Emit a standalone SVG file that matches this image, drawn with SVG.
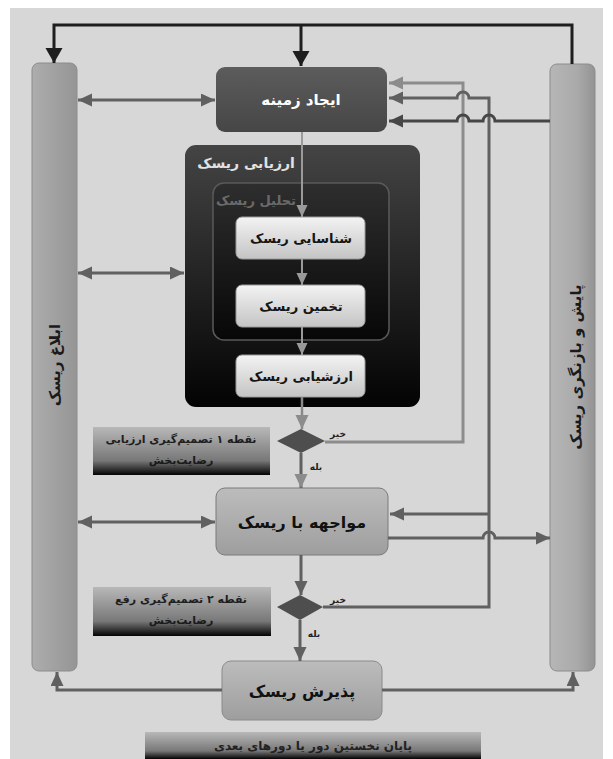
<svg xmlns="http://www.w3.org/2000/svg" width="613" height="759" viewBox="0 0 613 759">
<defs>
<style>
.fa{font-family:"DejaVu Sans","Noto Sans",sans-serif;direction:rtl;text-anchor:middle;font-weight:bold}
.ln{fill:none;stroke:#606060;stroke-width:3}
.blk{fill:none;stroke:#1e1e1e;stroke-width:3}
.lt{fill:none;stroke:#9a9a9a;stroke-width:2}
.node{fill:url(#gLight);stroke:#9a9a9a;stroke-width:1}
.lab{fill:url(#gLabel)}
.dia{fill:#4e4e4e}
</style>
<linearGradient id="gDark" x1="0" y1="0" x2="0" y2="1"><stop offset="0" stop-color="#5c5c5c"/><stop offset="1" stop-color="#464646"/></linearGradient>
<linearGradient id="gBlack" x1="0" y1="0" x2="0" y2="1"><stop offset="0" stop-color="#444"/><stop offset="1" stop-color="#030303"/></linearGradient>
<linearGradient id="gInner" x1="0" y1="0" x2="0" y2="1"><stop offset="0" stop-color="#2e2e2e"/><stop offset="1" stop-color="#070707"/></linearGradient>
<linearGradient id="gLight" x1="0" y1="0" x2="0" y2="1"><stop offset="0" stop-color="#f3f3f3"/><stop offset="1" stop-color="#c4c4c4"/></linearGradient>
<linearGradient id="gMid" x1="0" y1="0" x2="0" y2="1"><stop offset="0" stop-color="#bcbcbc"/><stop offset="1" stop-color="#9e9e9e"/></linearGradient>
<linearGradient id="gLabel" x1="0" y1="0" x2="0" y2="1"><stop offset="0" stop-color="#b8b8b8"/><stop offset="0.7" stop-color="#787878"/><stop offset="1" stop-color="#030303"/></linearGradient>
<linearGradient id="gBarL" x1="0" y1="0" x2="1" y2="0"><stop offset="0" stop-color="#adadad"/><stop offset="1" stop-color="#959595"/></linearGradient>
<linearGradient id="gBarR" x1="0" y1="0" x2="1" y2="0"><stop offset="0" stop-color="#b6b6b6"/><stop offset="0.6" stop-color="#aaaaaa"/><stop offset="1" stop-color="#939393"/></linearGradient>
<marker id="aB" markerUnits="userSpaceOnUse" markerWidth="16" markerHeight="18" refX="15" refY="8.5" orient="auto"><path d="M0,0 L15,8.5 L0,17 z" fill="#1e1e1e"/></marker>
<marker id="aG" markerUnits="userSpaceOnUse" markerWidth="15" markerHeight="14" refX="14" refY="6.5" orient="auto-start-reverse"><path d="M0,0 L14,6.5 L0,13 z" fill="#606060"/></marker>
<marker id="aL" markerUnits="userSpaceOnUse" markerWidth="15" markerHeight="14" refX="14" refY="6.5" orient="auto"><path d="M0,0 L14,6.5 L0,13 z" fill="#8c8c8c"/></marker>
<marker id="aD" markerUnits="userSpaceOnUse" markerWidth="15" markerHeight="14" refX="14" refY="6.5" orient="auto"><path d="M0,0 L14,6.5 L0,13 z" fill="#464646"/></marker>
<marker id="aS" markerUnits="userSpaceOnUse" markerWidth="13" markerHeight="12" refX="12" refY="5.5" orient="auto"><path d="M0,0 L12,5.5 L0,11 z" fill="#9a9a9a"/></marker>
</defs>
<rect x="0" y="0" width="613" height="759" fill="#ffffff"/>
<rect x="10" y="8" width="593" height="751" fill="#d7d7d7"/>

<g id="bar-communication">
<rect x="32" y="63" width="45" height="608" rx="7" fill="url(#gBarL)" stroke="#8c8c8c" stroke-width="1"/>
<text class="fa" transform="translate(55,365) rotate(-90)" dy="5" font-size="15" fill="#1a1a1a">ابلاغ ریسک</text>
</g>
<g id="bar-monitoring">
<rect x="550" y="64" width="45" height="607" rx="7" fill="url(#gBarR)" stroke="#8c8c8c" stroke-width="1"/>
<text class="fa" transform="translate(576,367) rotate(-90)" dy="5" font-size="15" fill="#1a1a1a">پایش و بازنگری ریسک</text>
</g>
<g id="node-context">
<rect x="216" y="67" width="171" height="65" rx="9" fill="url(#gDark)"/>
<text class="fa" x="301" y="105" font-size="15" fill="#ffffff">ایجاد زمینه</text>
</g>
<g id="node-assessment">
<rect x="185" y="145" width="235" height="262" rx="11" fill="url(#gBlack)"/>
<text class="fa" x="246" y="168" font-size="14" fill="#e2e2e2">ارزیابی ریسک</text>
</g>
<g id="node-analysis">
<rect x="213" y="183" width="176" height="157" rx="11" fill="url(#gInner)" stroke="#5a5a5a" stroke-width="1.5"/>
<text class="fa" x="256" y="205" font-size="13" fill="#6a6a6a">تحلیل ریسک</text>
</g>
<g id="node-identification">
<rect x="236" y="217" width="129" height="42" rx="6" class="node"/>
<text class="fa" x="301" y="243" font-size="13" fill="#151515">شناسایی ریسک</text>
</g>
<g id="node-estimation">
<rect x="236" y="285" width="129" height="42" rx="6" class="node"/>
<text class="fa" x="301" y="311" font-size="13" fill="#151515">تخمین ریسک</text>
</g>
<g id="node-evaluation">
<rect x="236" y="355" width="129" height="42" rx="6" class="node"/>
<text class="fa" x="301" y="381" font-size="13" fill="#151515">ارزشیابی ریسک</text>
</g>
<g id="node-decision1">
<path d="M277,441 L301,429 L325,441 L301,453 z" class="dia"/>
<text class="fa" x="338" y="437" font-size="9" fill="#222">خیر</text>
<text class="fa" x="316" y="470" font-size="9" fill="#222">بله</text>
</g>
<g id="node-label1">
<rect x="93" y="427" width="177" height="48" class="lab"/>
<text class="fa" x="181" y="443" font-size="11" fill="#1e1e1e">نقطه ۱ تصمیم‌گیری ارزیابی</text>
<text class="fa" x="181" y="464" font-size="11" fill="#1a1a1a">رضایت‌بخش</text>
</g>
<g id="node-treatment">
<rect x="216" y="488" width="172" height="67" rx="9" fill="url(#gMid)" stroke="#7a7a7a" stroke-width="1"/>
<text class="fa" x="302" y="528" font-size="16" fill="#111">مواجهه با ریسک</text>
</g>
<g id="node-decision2">
<path d="M277,607 L300,595 L323,607 L300,620 z" class="dia"/>
<text class="fa" x="338" y="603" font-size="9" fill="#222">خیر</text>
<text class="fa" x="314" y="637" font-size="9" fill="#222">بله</text>
</g>
<g id="node-label2">
<rect x="93" y="587" width="178" height="49" class="lab"/>
<text class="fa" x="181" y="603" font-size="11" fill="#1e1e1e">نقطه ۲ تصمیم‌گیری رفع</text>
<text class="fa" x="181" y="624" font-size="11" fill="#1a1a1a">رضایت‌بخش</text>
</g>
<g id="node-acceptance">
<rect x="222" y="661" width="160" height="59" rx="9" fill="url(#gMid)" stroke="#8a8a8a" stroke-width="1"/>
<text class="fa" x="302" y="697" font-size="16" fill="#111">پذیرش ریسک</text>
</g>
<g id="node-end">
<rect x="145" y="732" width="336" height="27" class="lab"/>
<text class="fa" x="313" y="750" font-size="12" fill="#222">پایان نخستین دور یا دورهای بعدی</text>
</g>

<g id="connectors">
<path class="blk" d="M572,64 V25 H54 V63" marker-end="url(#aB)"/>
<path class="blk" d="M301,25 V66" marker-end="url(#aB)"/>
<path class="ln" d="M78,100 H215" marker-start="url(#aG)" marker-end="url(#aG)"/>
<path class="ln" d="M78,273 H184" marker-start="url(#aG)" marker-end="url(#aG)"/>
<path class="ln" d="M78,522 H215" marker-start="url(#aG)" marker-end="url(#aG)"/>
<path d="M325,442 H463 V83 H389" fill="none" stroke="#8c8c8c" stroke-width="3" marker-end="url(#aL)"/>
<path class="ln" d="M323,607 H489 V98 H469 A6,6 0 0 0 457,98 H389" marker-end="url(#aG)"/>
<path d="M550,121 H495 A6,6 0 0 0 483,121 H469 A6,6 0 0 0 457,121 H389" fill="none" stroke="#464646" stroke-width="3" marker-end="url(#aD)"/>
<path class="ln" d="M489,514 H390" marker-end="url(#aG)"/>
<path class="ln" d="M388,538 H483 A6,6 0 0 1 495,538 H550" marker-end="url(#aG)"/>
<path class="lt" d="M302,132 V217" marker-end="url(#aS)"/>
<path class="lt" d="M302,259 V285" marker-end="url(#aS)"/>
<path class="lt" d="M302,327 V355" marker-end="url(#aS)"/>
<path d="M302,397 V429" fill="none" stroke="#888" stroke-width="2.5" marker-end="url(#aL)"/>
<path class="ln" d="M301,453 V488" marker-end="url(#aL)"/>
<path class="ln" d="M301,555 V595" marker-end="url(#aG)"/>
<path class="ln" d="M300,620 V661" marker-end="url(#aG)"/>
<path class="ln" d="M222,690 H57 V672" marker-end="url(#aG)"/>
<path class="ln" d="M382,690 H573 V672" marker-end="url(#aG)"/>
</g>
</svg>
